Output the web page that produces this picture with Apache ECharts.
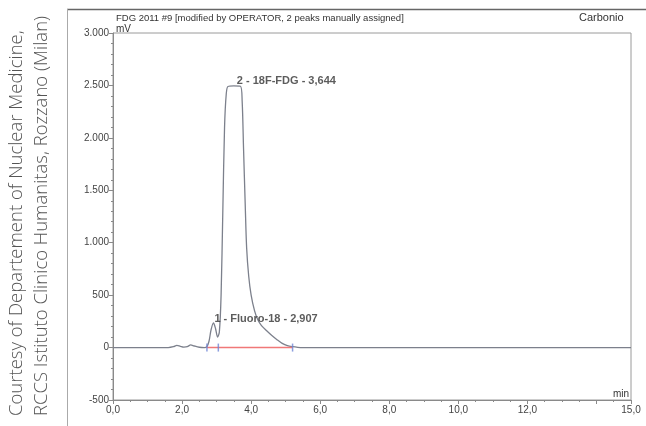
<!DOCTYPE html>
<html>
<head>
<meta charset="utf-8">
<script src="https://cdn.jsdelivr.net/npm/echarts@6/dist/echarts.min.js"></script>
<style>html,body{margin:0;padding:0;background:#fff}#c{width:646px;height:426px}</style>
</head>
<body>
<div id="c"></div>
<script>
// Retention time (min) and signal (mV)
var times = [0, 1.6, 1.75, 1.85, 1.95, 2.05, 2.15, 2.25, 2.35, 2.5, 2.65, 2.72, 2.78, 2.84, 2.91, 2.97, 3.03, 3.08, 3.13, 3.18, 3.23, 3.28, 3.33, 3.5, 3.69, 3.74, 3.78, 3.83, 3.87, 3.93, 4.0, 4.1, 4.2, 4.3, 4.45, 4.6, 4.75, 4.9, 5.05, 5.2, 5.35, 5.5, 15];
var signal = [0, 0, 8, 20, 12, 5, 8, 25, 15, 3, 0, 10, 60, 170, 235, 180, 100, 150, 500, 1300, 2100, 2420, 2490, 2495, 2492, 2350, 1900, 1350, 950, 680, 500, 350, 260, 210, 160, 115, 75, 40, 18, 8, 2, 0, 0];
var peakTimes = [2.907, 3.644];
var peakValues = [235, 2495];
var peakNames = ['1 - Fluoro-18 - 2,907', '2 - 18F-FDG - 3,644'];
var baselineTimes = [2.72, 5.2];
var delimiterTimes = [2.72, 3.05, 5.2];
var xTicks = [0, 2, 4, 6, 8, 10, 12, 15];
var yTicks = [-500, 0, 500, 1000, 1500, 2000, 2500, 3000];

var trace = times.map(function (t, i) { return [t, signal[i]]; });
var labelOffsets = [[1, 7], [-2, 6]];
var peaks = peakTimes.map(function (t, i) {
  return { value: [t, peakValues[i]], name: peakNames[i], label: { offset: labelOffsets[i] } };
});

var chart = echarts.init(document.getElementById('c'), null, { renderer: 'canvas' });
var font = 'Liberation Sans, Arial, sans-serif';
chart.setOption({
  animation: false,
  backgroundColor: '#fff',
  grid: { left: 113, right: 15, top: 33, bottom: 26, show: true, borderColor: '#9a9a9a', borderWidth: 1, backgroundColor: 'transparent' },
  xAxis: {
    type: 'value', min: 0, max: 15, interval: 2,
    axisLine: { onZero: false, lineStyle: { color: '#8a8a8a' } },
    axisTick: { show: true, length: 4, lineStyle: { color: '#8a8a8a' } },
    minorTick: { show: true, splitNumber: 4, length: 2, lineStyle: { color: '#8a8a8a' } },
    splitLine: { show: false },
    axisLabel: {
      color: '#444', fontFamily: font, fontSize: 10, margin: 5,
      formatter: function (v) { return xTicks.indexOf(v) < 0 ? '' : v.toFixed(1).replace('.', ','); }
    }
  },
  yAxis: {
    type: 'value', min: -500, max: 3000, interval: 500,
    axisLine: { show: true, lineStyle: { color: '#8a8a8a' } },
    axisTick: { show: true, length: 4, lineStyle: { color: '#8a8a8a' } },
    minorTick: { show: true, splitNumber: 5, length: 2, lineStyle: { color: '#8a8a8a' } },
    splitLine: { show: false },
    axisLabel: {
      color: '#444', fontFamily: font, fontSize: 10, margin: 4,
      formatter: function (v) { return yTicks.indexOf(v) < 0 ? '' : (Math.abs(v) >= 1000 ? (v / 1000).toFixed(3) : String(v)); }
    }
  },
  series: [
    {
      type: 'line', data: trace, symbol: 'none', smooth: 0.3,
      lineStyle: { color: '#7c808c', width: 1.3 }, z: 3
    },
    {
      type: 'line', data: baselineTimes.map(function (t) { return [t, 0]; }), symbol: 'none',
      lineStyle: { color: '#f07878', width: 1.5 }, z: 4
    },
    {
      type: 'scatter', data: delimiterTimes.map(function (t) { return [t, 0]; }),
      symbol: 'rect', symbolSize: [1.5, 8], itemStyle: { color: '#6f86d6' }, z: 5
    },
    {
      type: 'scatter', data: peaks, symbol: 'circle', symbolSize: 1, itemStyle: { color: 'rgba(0,0,0,0)' }, z: 6,
      label: {
        show: true, position: 'top', align: 'left',
        formatter: function (p) { return p.name; },
        fontFamily: font, fontWeight: 'bold', fontSize: 11, color: '#333'
      }
    }
  ],
  graphic: [
    { type: 'line', shape: { x1: 67, y1: 9.5, x2: 646, y2: 9.5 }, style: { stroke: '#666', lineWidth: 1.5 } },
    { type: 'line', shape: { x1: 67.5, y1: 9, x2: 67.5, y2: 426 }, style: { stroke: '#aaa', lineWidth: 1 } },
    { type: 'text', left: 116, top: 13, style: { text: 'FDG 2011 #9 [modified by OPERATOR, 2 peaks manually assigned]', font: '9.5px ' + font, fill: '#333' } },
    { type: 'text', left: 579, top: 12, style: { text: 'Carbonio', font: '11px ' + font, fill: '#333' } },
    { type: 'text', left: 116, top: 24, style: { text: 'mV', font: '10px ' + font, fill: '#333' } },
    { type: 'text', left: 613, top: 389, style: { text: 'min', font: '10px ' + font, fill: '#333' } },
    { type: 'text', x: 17, y: 416, rotation: Math.PI / 2, style: { text: 'Courtesy of Departement of Nuclear Medicine,', font: '300 18.5px "Open Sans", sans-serif', fill: '#555', align: 'left', verticalAlign: 'middle' } },
    { type: 'text', x: 42, y: 416, rotation: Math.PI / 2, style: { text: 'RCCS Istituto Clinico Humanitas, Rozzano (Milan)', font: '300 18.5px "Open Sans", sans-serif', fill: '#555', align: 'left', verticalAlign: 'middle' } }
  ]
});
</script>
</body>
</html>
